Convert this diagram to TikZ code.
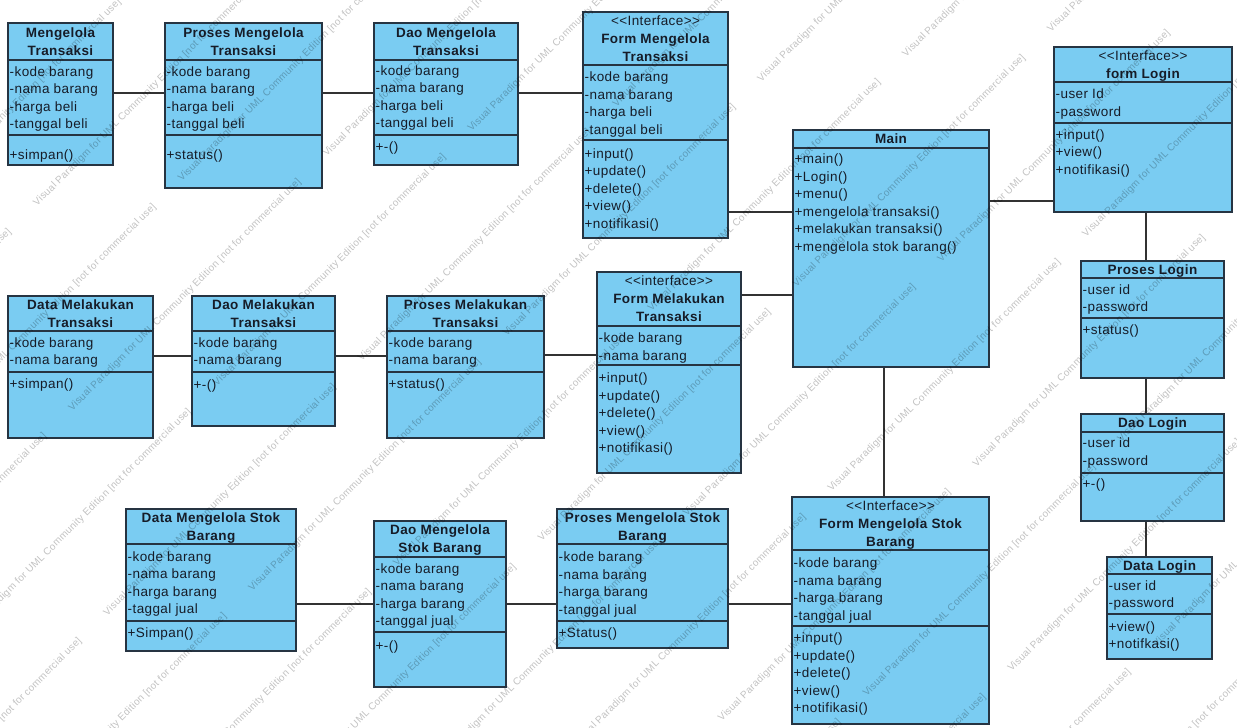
\documentclass[tikz,border=0pt]{standalone}
\usepackage{fontspec}
\setmainfont{Liberation Sans}[LetterSpace=3]
\usetikzlibrary{fit}

\definecolor{classfill}{RGB}{122,204,242}
\definecolor{classline}{RGB}{38,52,66}
\definecolor{inkc}{RGB}{22,28,40}
\definecolor{linkc}{RGB}{50,50,50}

\newcommand\wmtext{Visual Paradigm for UML Community Edition [not for commercial use]}

\tikzset{
  classrect/.style={draw=classline, fill=classfill, line width=1.4pt, inner sep=0pt, rectangle},
  compline/.style={draw=classline, line width=1.3pt},
  memtxt/.style={inner sep=0pt, text=inkc, font=\fontsize{13.5}{18}\selectfont, anchor=base west},
  hdrtxt/.style={inner sep=0pt, text=inkc, font=\bfseries\fontsize{13.5}{18}\selectfont, anchor=base},
  link/.style={draw=linkc, line width=1.3pt},
  wmark/.style={text=black, text opacity=0.24, font=\fontsize{10}{12}\selectfont, rotate=45, anchor=west, inner sep=0pt}
}

% class box: name, x1, y1, x2, y2, header bottom, number of header lines, header lines
\newcommand\classbox[8]{%
  \node[classrect, fit={(#2,#3) (#4,#5)}] (#1) {};
  \draw[compline] (#1.west |- 0,#6) -- (#1.east |- 0,#6);
  \foreach \hl [count=\hi from 0] in {#8}{
    \node[hdrtxt] (#1-h\hi) at ({(#2+#4)/2}, {(#3+#6)/2-(#7-1)*9+4.5+18*\hi}) {\hl};
  }%
}
% separator between attributes and operations
\newcommand\classsep[2]{\draw[compline] (#1.west |- 0,#2) -- (#1.east |- 0,#2);}
% member lines: name prefix, x, first baseline, list
\newcommand\classlines[4]{%
  \foreach \ml [count=\mi from 0] in {#4}{
    \node[memtxt] (#1\mi) at (#2, {#3+17.6*\mi}) {\ml};
  }%
}

\begin{document}
\begin{tikzpicture}[x=1pt,y=-1pt]
\useasboundingbox (0,0) rectangle (1237,728);
\fill[white] (0,0) rectangle (1237,728);

% ---- first row: Mengelola Transaksi
\classbox{mt}{8}{23}{113}{165}{60}{2}{Mengelola,Transaksi}
\classsep{mt}{135}
\classlines{mt-a}{9.5}{76}{-kode barang,-nama barang,-harga beli,-tanggal beli}
\classlines{mt-o}{9.5}{159}{+simpan()}

\classbox{pmt}{165}{23}{322}{188}{60}{2}{Proses Mengelola,Transaksi}
\classsep{pmt}{135}
\classlines{pmt-a}{166.5}{76}{-kode barang,-nama barang,-harga beli,-tanggal beli}
\classlines{pmt-o}{166.5}{159}{+status()}

\classbox{dmt}{374}{23}{518}{165}{60}{2}{Dao Mengelola,Transaksi}
\classsep{dmt}{135}
\classlines{dmt-a}{375.5}{75}{-kode barang,-nama barang,-harga beli,-tanggal beli}
\classlines{dmt-o}{375.5}{151}{+-()}

\classbox{fmt}{583}{12}{728}{238}{65}{3}{{\mdseries {<}{<}Interface{>}{>}},Form Mengelola,Transaksi}
\classsep{fmt}{140}
\classlines{fmt-a}{584.5}{81.5}{-kode barang,-nama barang,-harga beli,-tanggal beli}
\classlines{fmt-o}{584.5}{158}{+input(),+update(),+delete(),+view(),+notifikasi()}

% ---- main class
\classbox{main}{793}{130}{989}{367}{148}{1}{Main}
\classlines{main-o}{794.5}{163.5}{+main(),+Login(),+menu(),+mengelola transaksi(),+melakukan transaksi(),+mengelola stok barang()}

% ---- login chain
\classbox{flog}{1054}{47}{1232}{212}{82}{2}{{\mdseries {<}{<}Interface{>}{>}},form Login}
\classsep{flog}{123}
\classlines{flog-a}{1055.5}{98.5}{-user Id,-password}
\classlines{flog-o}{1055.5}{139}{+input(),+view(),+notifikasi()}

\classbox{plog}{1081}{261}{1224}{378}{278}{1}{Proses Login}
\classsep{plog}{318}
\classlines{plog-a}{1082.5}{294}{-user id,-password}
\classlines{plog-o}{1082.5}{334}{+status()}

\classbox{dlog}{1081}{414}{1224}{521}{432}{1}{Dao Login}
\classsep{dlog}{473}
\classlines{dlog-a}{1082.5}{447.5}{-user id,-password}
\classlines{dlog-o}{1082.5}{488}{+-()}

\classbox{datalog}{1107}{557}{1212}{659}{574}{1}{Data Login}
\classsep{datalog}{614}
\classlines{datalog-a}{1108.5}{590}{-user id,-password}
\classlines{datalog-o}{1108.5}{631}{+view(),+notifkasi()}

% ---- second row: Melakukan Transaksi
\classbox{dmelt}{8}{296}{153}{438}{331}{2}{Data Melakukan,Transaksi}
\classsep{dmelt}{372}
\classlines{dmelt-a}{9.5}{347}{-kode barang,-nama barang}
\classlines{dmelt-o}{9.5}{388.5}{+simpan()}

\classbox{daomelt}{192}{296}{335}{426}{331}{2}{Dao Melakukan,Transaksi}
\classsep{daomelt}{372}
\classlines{daomelt-a}{193.5}{347}{-kode barang,-nama barang}
\classlines{daomelt-o}{193.5}{389}{+-()}

\classbox{pmelt}{387}{296}{544}{438}{331}{2}{Proses Melakukan,Transaksi}
\classsep{pmelt}{372}
\classlines{pmelt-a}{388.5}{347}{-kode barang,-nama barang}
\classlines{pmelt-o}{388.5}{388}{+status()}

\classbox{fmelt}{597}{272}{741}{473}{326}{3}{{\mdseries {<}{<}interface{>}{>}},Form Melakukan,Transaksi}
\classsep{fmelt}{365}
\classlines{fmelt-a}{598.5}{342.5}{-kode barang,-nama barang}
\classlines{fmelt-o}{598.5}{382.5}{+input(),+update(),+delete(),+view(),+notifikasi()}

% ---- third row: Mengelola Stok Barang
\classbox{dmsb}{126}{509}{296}{651}{544}{2}{Data Mengelola Stok,Barang}
\classsep{dmsb}{621}
\classlines{dmsb-a}{127.5}{561}{-kode barang,-nama barang,-harga barang,-taggal jual}
\classlines{dmsb-o}{127.5}{637}{+Simpan()}

\classbox{daomsb}{374}{521}{506}{687}{557}{2}{Dao Mengelola,Stok Barang}
\classsep{daomsb}{632}
\classlines{daomsb-a}{375.5}{573}{-kode barang,-nama barang,-harga barang,-tanggal jual}
\classlines{daomsb-o}{375.5}{650}{+-()}

\classbox{pmsb}{557}{509}{728}{648}{544}{2}{Proses Mengelola Stok,Barang}
\classsep{pmsb}{621}
\classlines{pmsb-a}{558.5}{561.5}{-kode barang,-nama barang,-harga barang,-tanggal jual}
\classlines{pmsb-o}{558.5}{637.5}{+Status()}

\classbox{fmsb}{792}{497}{989}{724}{550}{3}{{\mdseries {<}{<}Interface{>}{>}},Form Mengelola Stok,Barang}
\classsep{fmsb}{626}
\classlines{fmsb-a}{793.5}{567.5}{-kode barang,-nama barang,-harga barang,-tanggal jual}
\classlines{fmsb-o}{793.5}{642.5}{+input(),+update(),+delete(),+view(),+notifikasi()}

% ---- associations
\draw[link] (mt.east |- 0,93) -- (pmt.west |- 0,93);
\draw[link] (pmt.east |- 0,93) -- (dmt.west |- 0,93);
\draw[link] (dmt.east |- 0,93) -- (fmt.west |- 0,93);
\draw[link] (fmt.east |- 0,212) -- (main.west |- 0,212);
\draw[link] (main.east |- 0,201) -- (flog.west |- 0,201);
\draw[link] (flog.south -| 1146,0) -- (plog.north -| 1146,0);
\draw[link] (plog.south -| 1146,0) -- (dlog.north -| 1146,0);
\draw[link] (dlog.south -| 1146,0) -- (datalog.north -| 1146,0);
\draw[link] (fmelt.east |- 0,295) -- (main.west |- 0,295);
\draw[link] (pmelt.east |- 0,355) -- (fmelt.west |- 0,355);
\draw[link] (daomelt.east |- 0,356) -- (pmelt.west |- 0,356);
\draw[link] (dmelt.east |- 0,356) -- (daomelt.west |- 0,356);
\draw[link] (main.south -| 884,0) -- (fmsb.north -| 884,0);
\draw[link] (dmsb.east |- 0,604) -- (daomsb.west |- 0,604);
\draw[link] (daomsb.east |- 0,604) -- (pmsb.west |- 0,604);
\draw[link] (pmsb.east |- 0,604) -- (fmsb.west |- 0,604);

% ---- edition watermark tiled over the sheet (lines that miss the sheet are skipped)
\begin{scope}
  \clip (0,0) rectangle (1237,728);
  \foreach \j in {-1,...,17}{
    \foreach \k in {-9,...,3}{
      \pgfmathsetmacro\ss{360*\k+120*\j}
      \pgfmathsetmacro\wx{60*\j+0.7071*\ss}
      \pgfmathsetmacro\wy{60*\j-0.7071*\ss}
      \pgfmathsetmacro\tlo{max(0,-\wx,\wy-728)}
      \pgfmathsetmacro\thi{min(232,1237-\wx,\wy)}
      \pgfmathtruncatemacro\shown{\thi-\tlo>8 ? 1 : 0}
      \ifnum\shown=1
        \node[wmark] (wm-\j-\k) at (\wx,\wy) {\wmtext};
      \fi
    }
  }
\end{scope}
\end{tikzpicture}
\end{document}
